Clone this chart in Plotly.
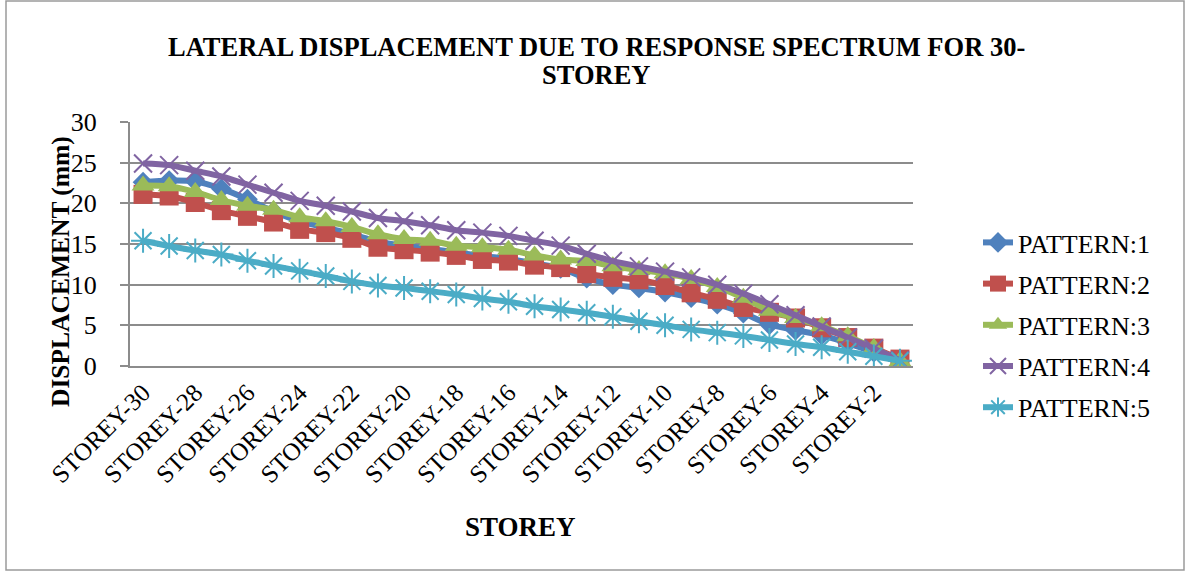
import plotly.graph_objects as go

# Storey labels along the category axis (top storey first)
storeys = [
    "STOREY-30", "STOREY-29", "STOREY-28", "STOREY-27", "STOREY-26", "STOREY-25",
    "STOREY-24", "STOREY-23", "STOREY-22", "STOREY-21", "STOREY-20", "STOREY-19",
    "STOREY-18", "STOREY-17", "STOREY-16", "STOREY-15", "STOREY-14", "STOREY-13",
    "STOREY-12", "STOREY-11", "STOREY-10", "STOREY-9", "STOREY-8", "STOREY-7",
    "STOREY-6", "STOREY-5", "STOREY-4", "STOREY-3", "STOREY-2", "STOREY-1",
]

# Lateral displacement (mm) for each load pattern
pattern1 = [22.6, 22.8, 22.7, 21.8, 20.5, 19.0, 17.8, 17.0, 16.2, 15.3, 14.8, 14.4, 14.0, 13.5, 13.2,
            12.6, 12.0, 10.8, 10.0, 9.6, 9.1, 8.4, 7.6, 6.5, 5.1, 4.4, 3.8, 2.8, 1.7, 0.6]
pattern2 = [21.1, 20.9, 20.1, 19.1, 18.4, 17.7, 16.8, 16.4, 15.7, 14.6, 14.3, 14.0, 13.6, 13.1, 12.9,
            12.4, 12.1, 11.35, 10.9, 10.6, 9.9, 9.0, 8.2, 7.2, 6.6, 5.9, 4.7, 3.5, 2.2, 0.85]
pattern3 = [22.2, 22.1, 21.4, 20.4, 19.7, 19.2, 18.3, 17.8, 17.1, 16.2, 15.6, 15.4, 14.8, 14.6, 14.3,
            13.6, 13.1, 12.9, 12.25, 11.8, 11.4, 10.7, 9.7, 8.4, 6.8, 5.9, 4.9, 3.65, 2.2, 0.6]
pattern4 = [24.9, 24.7, 24.0, 23.3, 22.3, 21.3, 20.3, 19.7, 19.0, 18.2, 17.8, 17.3, 16.7, 16.4, 16.0,
            15.4, 14.8, 13.8, 12.9, 12.25, 11.6, 10.9, 10.0, 8.9, 7.6, 6.25, 4.85, 3.5, 2.15, 0.7]
pattern5 = [15.4, 14.75, 14.2, 13.7, 12.95, 12.3, 11.7, 11.07, 10.4, 9.9, 9.6, 9.2, 8.8, 8.3, 7.9,
            7.35, 6.95, 6.55, 6.05, 5.5, 5.0, 4.5, 4.1, 3.7, 3.2, 2.7, 2.3, 1.75, 1.2, 0.65]

series_names = ["PATTERN:1", "PATTERN:2", "PATTERN:3", "PATTERN:4", "PATTERN:5"]
series_values = [pattern1, pattern2, pattern3, pattern4, pattern5]
colors = ["#4F81BD", "#C0504D", "#9BBB59", "#8064A2", "#4BACC6"]
symbols = ["diamond", "square", "triangle-up", "x-thin-open", "asterisk-open"]
sizes = [16, 19, 20, 18, 20]

title_lines = ["LATERAL DISPLACEMENT DUE TO RESPONSE SPECTRUM FOR 30-", "STOREY"]
x_title = "STOREY"
y_title = "DISPLACEMENT (mm)"

FONT = "Liberation Serif"
BODY_FONT = "serif"
W, H = 1188, 572
L, R, T, B = 130, 275, 122, 206
GRID = "#8C8C8C"
pw = W - L - R
ph = H - T - B


def px_x(x):
    """pixel column -> paper x"""
    return (x - L) / pw


def px_y(y):
    """pixel row -> paper y"""
    return (H - B - y) / ph


fig = go.Figure()
for i, (name, vals) in enumerate(zip(series_names, series_values)):
    open_sym = symbols[i].endswith("open")
    fig.add_trace(go.Scatter(
        x=storeys, y=vals, name=name, mode="lines+markers",
        legendgroup=name,
        line=dict(color=colors[i], width=6, shape="spline", smoothing=0.8),
        marker=dict(
            symbol=symbols[i], size=sizes[i], color=colors[i],
            line=dict(color=colors[i], width=2 if open_sym else 0),
        ),
    ))

fig.update_layout(
    width=W, height=H, autosize=False,
    margin=dict(l=L, r=R, t=T, b=B, pad=0),
    paper_bgcolor="white", plot_bgcolor="white",
    xaxis=dict(
        type="category", categoryorder="array", categoryarray=storeys,
        tickmode="linear", tick0=0, dtick=2, tickangle=-45,
        showgrid=False, showline=True, linecolor=GRID, linewidth=2,
        ticks="", tickfont=dict(family=BODY_FONT, size=25, color="#000000"),
        range=[-0.5, len(storeys) - 0.5],
    ),
    yaxis=dict(
        range=[0, 30], dtick=5, tick0=0,
        showgrid=True, gridcolor=GRID, gridwidth=2,
        showline=True, linecolor=GRID, linewidth=2,
        ticks="outside", ticklen=8, tickcolor=GRID, tickwidth=2,
        ticklabelstandoff=18,
        tickfont=dict(family=BODY_FONT, size=26, color="#000000"),
        zeroline=False,
    ),
    legend=dict(
        x=px_x(978), xanchor="left",
        y=px_y(325), yanchor="middle",
        font=dict(family=BODY_FONT, size=26, color="#000000"),
        traceorder="grouped", tracegroupgap=4.4,
        bgcolor="rgba(0,0,0,0)", itemwidth=30,
    ),
    showlegend=True,
)

# chart title (two lines, tight spacing)
for text, yc in zip(title_lines, [47, 75]):
    fig.add_annotation(
        text=f"<b>{text}</b>", xref="paper", yref="paper",
        x=px_x(596), y=px_y(yc), xanchor="center", yanchor="middle",
        showarrow=False, font=dict(family=FONT, size=26.5, color="#000000"),
    )

# axis titles
fig.add_annotation(
    text=f"<b>{x_title}</b>", xref="paper", yref="paper",
    x=px_x(520), y=px_y(527), xanchor="center", yanchor="middle",
    showarrow=False, font=dict(family=FONT, size=27, color="#000000"),
)
fig.add_annotation(
    text=f"<b>{y_title}</b>", xref="paper", yref="paper",
    x=px_x(60), y=px_y(272), xanchor="center", yanchor="middle", textangle=-90,
    showarrow=False, font=dict(family=FONT, size=25.5, color="#000000"),
)

# thin frame around the whole chart
fig.add_shape(
    type="rect", xref="paper", yref="paper",
    x0=px_x(6), x1=px_x(1184),
    y0=px_y(570), y1=px_y(1),
    line=dict(color="#9A9A9A", width=1.5), fillcolor="rgba(0,0,0,0)", layer="below",
)

fig.write_html("out.html")
